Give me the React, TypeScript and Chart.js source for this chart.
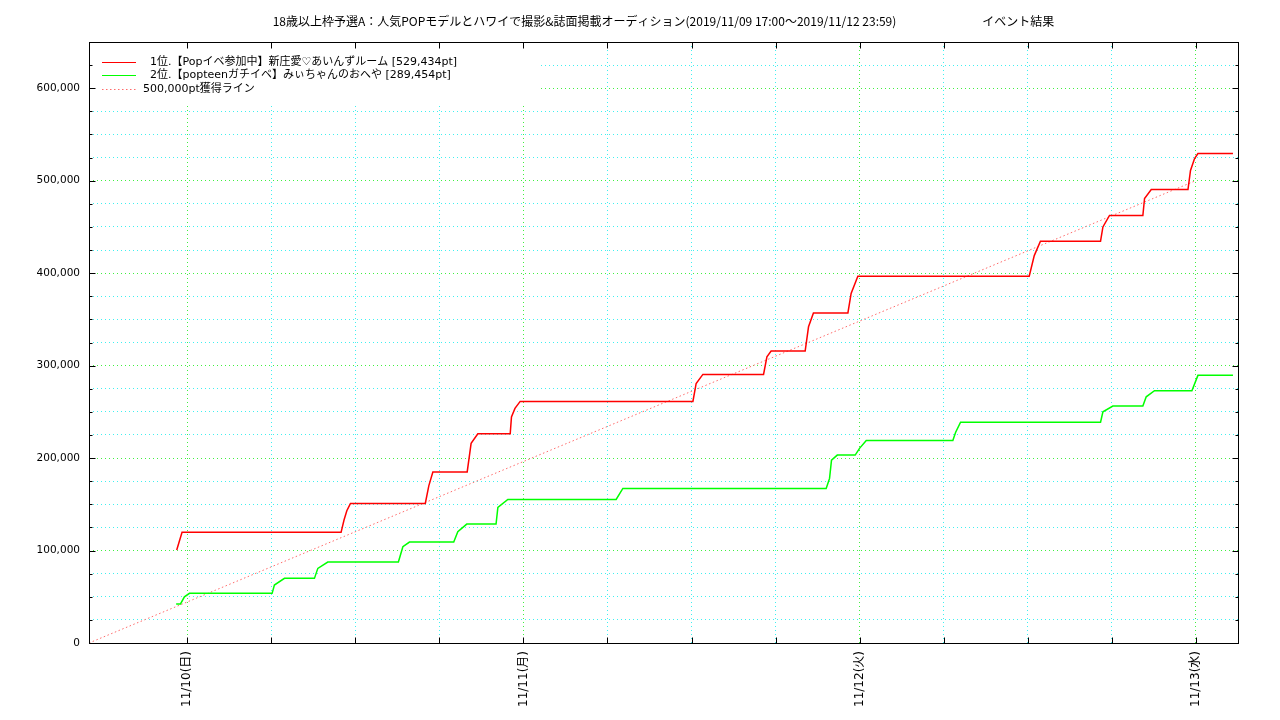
import { useEffect, useRef } from "react";
import { Chart, registerables } from "chart.js";
Chart.register(...registerables);

const TITLE =
  "18歳以上枠予選A：人気POPモデルとハワイで撮影&誌面掲載オーディション(2019/11/09 17:00〜2019/11/12 23:59)                                イベント結果";

// x values are hours counted from 11/10 00:00
const xMin = -7;
const xMax = 75;
const dayTickHours = [0, 24, 48, 72];
const dayTickLabels = ["11/10(日)", "11/11(月)", "11/12(火)", "11/13(水)"];

const seriesLabels = [
  "  1位.【Popイベ参加中】新庄愛♡あいんずルーム [529,434pt]",
  "  2位.【popteenガチイベ】みぃちゃんのおへや [289,454pt]",
  "500,000pt獲得ライン",
];

const redHours = [
  -0.74, -0.36, 10.99, 11.2, 11.4, 11.66, 17.0, 17.25, 17.54, 19.99, 20.27, 20.75,
  23.06, 23.15, 23.4, 23.77, 36.1, 36.33, 36.81, 41.14, 41.38, 41.68, 44.11, 44.35,
  44.7, 47.16, 47.39, 47.87, 60.1, 60.46, 60.9, 65.19, 65.36, 65.83, 68.21, 68.33,
  68.81, 71.43, 71.61, 71.9, 72.14, 74.64,
];
const redPoints = [
  100500, 119700, 119700, 133000, 143000, 151000, 151000, 170000, 185000, 185000, 216000, 226300,
  226300, 244600, 253700, 261300, 261300, 280700, 290500, 290500, 309500, 315700, 315700, 342000,
  357000, 357000, 378000, 396700, 396700, 419000, 434600, 434600, 450000, 462400, 462400, 480700,
  490500, 490500, 511000, 524000, 529434, 529434,
];

const greenHours = [
  -0.78, -0.47, -0.19, 0.17, 6.07, 6.23, 6.95, 9.09, 9.33, 10.04, 15.08, 15.4, 15.87,
  19.03, 19.32, 19.96, 22.05, 22.18, 22.89, 30.62, 31.1, 45.61, 45.85, 45.99, 46.4,
  47.68, 47.99, 48.47, 54.65, 54.85, 55.2, 65.19, 65.36, 66.07, 68.21, 68.45, 69.04,
  71.71, 72.14, 74.64,
];
const greenPoints = [
  42200, 42200, 50000, 53700, 53700, 62700, 69900, 69900, 80700, 87600, 87600, 104100, 109200,
  109200, 120300, 128600, 128600, 146700, 155300, 155300, 167200, 167200, 178000, 197800, 203200,
  203200, 210500, 219100, 219100, 228000, 238800, 238800, 250000, 256200, 256200, 266300, 272800,
  272800, 289454, 289454,
];

const targetHours = [-7, 71.98];
const targetPoints = [0, 500000];

const yMax = 650000;
const yStep = 25000;
const yLabelStep = 100000;
const xStep = 6;

const FONT = '"DejaVu Sans", "Noto Sans CJK JP", sans-serif';
const TITLE_FONT = '"Noto Sans CJK JP", "DejaVu Sans", sans-serif';
const GRID_MAJOR = "#40f040";
const GRID_MINOR = "#40f0f0";

const toXY = (xs: number[], ys: number[]) => xs.map((x, i) => ({ x, y: ys[i] }));

const framePlugin = {
  id: "gnuplotFrame",
  afterDraw(chart: any) {
    const { ctx, chartArea } = chart;
    const { left, right, top, bottom } = chartArea;
    const xs = chart.scales.x;
    const ys = chart.scales.y;
    ctx.save();

    // key box
    ctx.fillStyle = "#ffffff";
    ctx.fillRect(left + 1, top + 1, 451, 60);
    const ds = chart.data.datasets;
    ds.forEach((d: any, i: number) => {
      const yy = Math.floor(top + 20 + i * 13.6) + 0.5;
      ctx.beginPath();
      ctx.strokeStyle = d.borderColor;
      ctx.lineWidth = 1;
      ctx.setLineDash(d.borderDash || []);
      ctx.moveTo(left + 13, yy);
      ctx.lineTo(left + 47, yy);
      ctx.stroke();
      ctx.setLineDash([]);
      ctx.fillStyle = "#000";
      ctx.font = `11px ${FONT}`;
      ctx.textBaseline = "middle";
      ctx.textAlign = "left";
      ctx.fillText(d.label, left + 54, yy);
    });

    // frame
    ctx.strokeStyle = "#000";
    ctx.lineWidth = 1;
    const L = Math.round(left) + 0.5;
    const R = Math.round(right) + 0.5;
    const T = Math.round(top) + 0.5;
    const B = Math.round(bottom) + 0.5;
    ctx.strokeRect(L, T, R - L, B - T);

    // inward ticks
    ctx.beginPath();
    ys.ticks.forEach((t: any) => {
      const p = Math.round(ys.getPixelForValue(t.value)) + 0.5;
      const len = t.value % yLabelStep === 0 ? 6 : 3;
      ctx.moveTo(L, p);
      ctx.lineTo(L + len, p);
      ctx.moveTo(R, p);
      ctx.lineTo(R - len, p);
    });
    xs.ticks.forEach((t: any) => {
      if (Math.abs(t.value % xStep) > 1e-9) return;
      const p = Math.round(xs.getPixelForValue(t.value)) + 0.5;
      ctx.moveTo(p, B);
      ctx.lineTo(p, B - 6);
      ctx.moveTo(p, T);
      ctx.lineTo(p, T + 6);
    });
    ctx.stroke();
    ctx.restore();
  },
};

export default function App() {
  const ref = useRef<HTMLCanvasElement | null>(null);
  useEffect(() => {
    if (!ref.current) return;
    const chart = new Chart(ref.current, {
      type: "line",
      data: {
        datasets: [
          {
            label: seriesLabels[0],
            data: toXY(redHours, redPoints),
            borderColor: "#ff0000",
            borderWidth: 1.5,
            pointRadius: 0,
            tension: 0,
          },
          {
            label: seriesLabels[1],
            data: toXY(greenHours, greenPoints),
            borderColor: "#00ff00",
            borderWidth: 1.5,
            pointRadius: 0,
            tension: 0,
          },
          {
            label: seriesLabels[2],
            data: toXY(targetHours, targetPoints),
            borderColor: "#ff6a6a",
            borderWidth: 1,
            borderDash: [1.5, 2.5],
            pointRadius: 0,
            tension: 0,
          },
        ],
      },
      options: {
        animation: false,
        responsive: false,
        devicePixelRatio: 1,
        layout: { padding: { left: 0, right: 42, top: 0, bottom: 0 } },
        plugins: {
          legend: { display: false },
          tooltip: { enabled: false },
          title: {
            display: true,
            fullSize: false,
            text: TITLE,
            color: "#000",
            font: { family: TITLE_FONT, size: 12, weight: "normal", lineHeight: 1.2 },
            padding: { top: 14, bottom: 13.6 },
          },
        },
        scales: {
          x: {
            type: "linear",
            min: xMin,
            max: xMax,
            afterFit: (s: any) => {
              s.height = 77;
            },
            border: { display: false, dash: [1, 3] },
            grid: {
              drawTicks: false,
              lineWidth: 1,
              borderDash: [1, 3],
              color: (c: any) =>
                c.tick && Math.abs(c.tick.value % 24) < 1e-9 ? GRID_MAJOR : GRID_MINOR,
            },
            ticks: {
              stepSize: xStep,
              autoSkip: false,
              minRotation: 90,
              maxRotation: 90,
              padding: 8,
              color: "#000",
              font: { family: FONT, size: 12 },
              callback: (v: any) => {
                const i = dayTickHours.indexOf(Number(v));
                return i >= 0 ? dayTickLabels[i] : "";
              },
            },
          },
          y: {
            type: "linear",
            min: 0,
            max: yMax,
            afterFit: (s: any) => {
              s.width = 89;
            },
            border: { display: false, dash: [1, 3] },
            grid: {
              drawTicks: false,
              lineWidth: 1,
              borderDash: [1, 3],
              color: (c: any) =>
                c.tick && c.tick.value % yLabelStep === 0 ? GRID_MAJOR : GRID_MINOR,
            },
            ticks: {
              stepSize: yStep,
              autoSkip: false,
              padding: 9,
              color: "#000",
              font: { family: FONT, size: 10.5 },
              callback: (v: any) =>
                Number(v) % yLabelStep === 0 ? Number(v).toLocaleString("en-US") : "",
            },
          },
        },
      },
      plugins: [framePlugin],
    });
    return () => chart.destroy();
  }, []);
  return (
    <div style={{ position: "fixed", left: 0, top: 0, width: 1280, height: 720, background: "#fff" }}>
      <canvas ref={ref} width={1280} height={720} style={{ display: "block" }} />
    </div>
  );
}
